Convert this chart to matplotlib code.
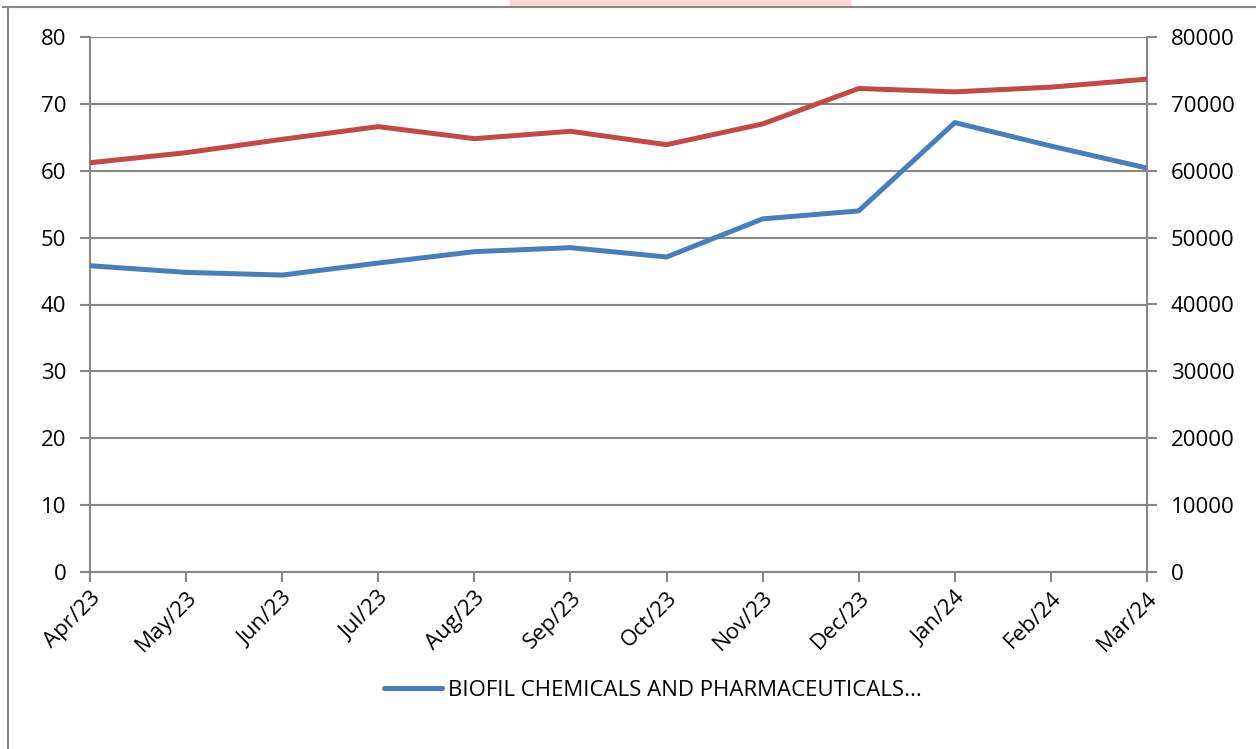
import matplotlib.pyplot as plt
from matplotlib.patches import Rectangle
from matplotlib.lines import Line2D

months = ["Apr/23", "May/23", "Jun/23", "Jul/23", "Aug/23", "Sep/23",
          "Oct/23", "Nov/23", "Dec/23", "Jan/24", "Feb/24", "Mar/24"]
biofil = [45.8, 44.8, 44.4, 46.2, 47.9, 48.5, 47.1, 52.8, 54.0, 67.2, 63.7, 60.4]
index_vals = [61200, 62700, 64700, 66600, 64800, 65900, 63900, 67000, 72300, 71800, 72500, 73700]
legend_label = "BIOFIL CHEMICALS AND PHARMACEUTICALS..."

plt.rcParams['font.family'] = ['Open Sans', 'DejaVu Sans']
grey = "#888888"

fig = plt.figure(figsize=(12.56, 7.49), dpi=100)
ax = fig.add_axes([90 / 1256, 1 - 572 / 749, (1147 - 90) / 1256, (572 - 37) / 749])
ax2 = ax.twinx()

x = list(range(len(months)))
ax.plot(x, biofil, color="#4A7EBB", lw=3.6, solid_capstyle="round", zorder=3)
ax2.plot(x, index_vals, color="#BE4B48", lw=3.6, solid_capstyle="round", zorder=3)

ax.set_xlim(0, len(months) - 1)
ax.set_ylim(0, 80)
ax2.set_ylim(0, 80000)
ax.set_yticks(range(0, 81, 10))
ax2.set_yticks(range(0, 80001, 10000))
ax.set_xticks(x)
ax.set_xticklabels(months, rotation=45, ha="right", rotation_mode="anchor")
ax.yaxis.grid(True, color=grey, lw=1.5)
ax.set_axisbelow(True)

for a in (ax, ax2):
    for s in a.spines.values():
        s.set_visible(False)
    a.tick_params(colors=grey, labelcolor="black", labelsize=16, length=7, width=1.5)
ax.spines["left"].set_visible(True)
ax.spines["bottom"].set_visible(True)
ax2.spines["right"].set_visible(True)
for s in (ax.spines["left"], ax.spines["bottom"], ax2.spines["right"]):
    s.set_color(grey)
    s.set_linewidth(1.5)
ax.tick_params(axis="y", pad=10)
ax2.tick_params(axis="y", pad=10)
ax.tick_params(axis="x", pad=4)

handle = Line2D([], [], color="#4A7EBB", lw=3.6, solid_capstyle="round")
fig.legend([handle], [legend_label], loc="center", bbox_to_anchor=(0.52, 1 - 690 / 749),
           frameon=False, fontsize=16, handlelength=2.6, handletextpad=0.3)

# outer chart frame and faint artefact at top
fig.add_artist(Line2D([3 / 1256, 1], [1 - 7 / 749] * 2, color=grey, lw=1.5))
fig.add_artist(Line2D([8 / 1256] * 2, [0, 1 - 7 / 749], color=grey, lw=1.5))
fig.add_artist(Rectangle((510 / 1256, 1 - 6 / 749), 340 / 1256, 6 / 749,
                         color="#FFD6D6", transform=fig.transFigure, zorder=0))

fig.savefig("out.png", dpi=100)
